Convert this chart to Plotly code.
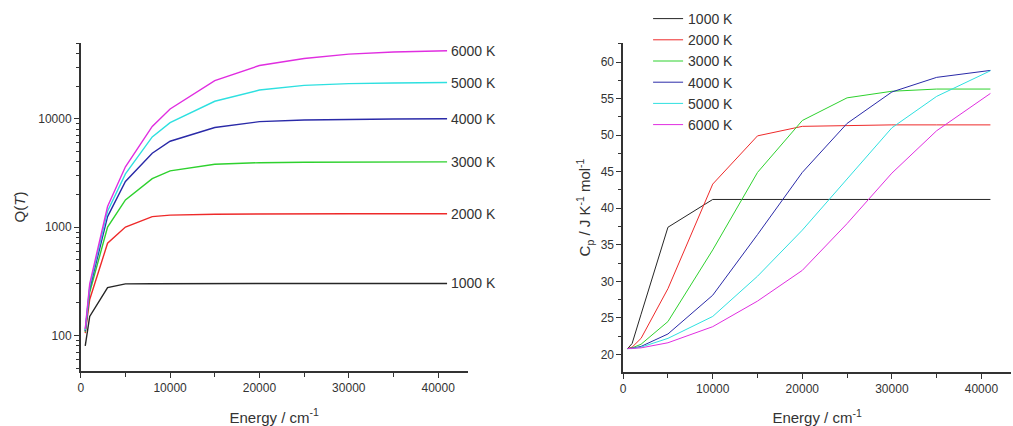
import math
import plotly.graph_objects as go

# ---------------- data ----------------
temps = ["1000 K", "2000 K", "3000 K", "4000 K", "5000 K", "6000 K"]
colors = ["#262626", "#ee2a2a", "#2ed12e", "#2a2aa8", "#2ee0e0", "#e02ee0"]

energy_q = [500, 1000, 3000, 5000, 8000, 10000, 15000, 20000, 25000, 30000, 35000, 41000]
q_1000 = [80, 150, 277, 299, 300, 301, 302, 302, 302, 302, 302, 302]
q_2000 = [105, 215, 710, 1000, 1250, 1290, 1315, 1325, 1330, 1330, 1330, 1330]
q_3000 = [108, 250, 1000, 1780, 2800, 3300, 3800, 3930, 3970, 3990, 4000, 4000]
q_4000 = [110, 270, 1250, 2640, 4800, 6200, 8300, 9400, 9750, 9900, 9950, 10000]
q_5000 = [112, 285, 1400, 3100, 6800, 9200, 14500, 18400, 20300, 21100, 21400, 21600]
q_6000 = [115, 300, 1550, 3600, 8500, 12300, 22500, 31000, 36000, 39500, 41300, 42400]

energy_cp = [500, 1000, 2000, 5000, 10000, 15000, 20000, 25000, 30000, 35000, 41000]
cp_1000 = [20.8, 21.5, 25.5, 37.4, 41.2, 41.2, 41.2, 41.2, 41.2, 41.2, 41.2]
cp_2000 = [20.8, 21.0, 22.2, 29.0, 43.3, 49.9, 51.2, 51.35, 51.4, 51.4, 51.4]
cp_3000 = [20.8, 20.9, 21.4, 24.5, 34.3, 44.9, 52.0, 55.1, 56.0, 56.3, 56.3]
cp_4000 = [20.8, 20.85, 21.1, 22.8, 28.1, 36.4, 44.9, 51.6, 55.9, 57.9, 58.85]
cp_5000 = [20.8, 20.8, 21.0, 22.2, 25.2, 30.7, 37.0, 44.0, 51.0, 55.3, 58.8]
cp_6000 = [20.8, 20.8, 20.9, 21.6, 23.8, 27.3, 31.5, 37.9, 44.8, 50.6, 55.7]

x_ticks = [0, 10000, 20000, 30000, 40000]
x_ticktext = ["0", "10000", "20000", "30000", "40000"]
q_ticks = [100, 1000, 10000]
q_ticktext = ["100", "1000", "10000"]
cp_ticks = [20, 25, 30, 35, 40, 45, 50, 55, 60]

q_series = [q_1000, q_2000, q_3000, q_4000, q_5000, q_6000]
cp_series = [cp_1000, cp_2000, cp_3000, cp_4000, cp_5000, cp_6000]

FONT = "Liberation Sans, Arial, sans-serif"
AX = "#333333"
TXT = "#333333"

fig = go.Figure()

for name, col, ys in zip(temps, colors, q_series):
    fig.add_trace(go.Scatter(x=energy_q, y=ys, mode="lines", name=name,
                             line=dict(color=col, width=1.4), showlegend=False,
                             xaxis="x", yaxis="y"))
for name, col, ys in zip(temps, colors, cp_series):
    fig.add_trace(go.Scatter(x=energy_cp, y=ys, mode="lines", name=name,
                             line=dict(color=col, width=1.0), showlegend=True,
                             xaxis="x2", yaxis="y2"))

# curve-end labels on the left panel
annotations = []
for name, ys in zip(temps, q_series):
    annotations.append(dict(x=energy_q[-1], y=math.log10(ys[-1]), xref="x", yref="y",
                            text=name, showarrow=False, xanchor="left", yanchor="middle",
                            xshift=2, font=dict(family=FONT, size=14, color=TXT)))

minor_log = [k * 10 ** d for d in range(1, 5) for k in range(2, 10)]

common_x = dict(range=[0, 43300], tickvals=x_ticks, ticktext=x_ticktext,
                ticks="outside", ticklen=5, tickwidth=1.2, tickcolor=AX,
                showline=True, linecolor=AX, linewidth=1.5, showgrid=False, zeroline=False,
                minor=dict(dtick=5000, ticks="outside", ticklen=4, tickcolor=AX, tickwidth=1.2),
                tickfont=dict(family=FONT, size=12, color=TXT),
                title=dict(text="Energy / cm<sup>-1</sup>", font=dict(family=FONT, size=15, color=TXT),
                           standoff=18))

fig.update_layout(
    width=1013, height=426, autosize=False,
    margin=dict(l=0, r=0, t=0, b=0),
    paper_bgcolor="white", plot_bgcolor="white",
    font=dict(family=FONT, color=TXT),
    xaxis=dict(domain=[78 / 1013, 466 / 1013], anchor="y", **common_x),
    xaxis2=dict(domain=[622 / 1013, 1011 / 1013], anchor="y2", **common_x),
    yaxis=dict(domain=[55 / 426, 383 / 426], anchor="x", type="log",
               range=[math.log10(47), math.log10(50000)],
               tickvals=q_ticks, ticktext=q_ticktext,
               ticks="outside", ticklen=5, tickwidth=1.2, tickcolor=AX,
               minor=dict(tickvals=minor_log, ticks="outside", ticklen=3, tickcolor=AX, tickwidth=1.2),
               showline=True, linecolor=AX, linewidth=1.5, showgrid=False, zeroline=False,
               tickfont=dict(family=FONT, size=12, color=TXT),
               title=dict(text="Q(<i>T</i>)", font=dict(family=FONT, size=15, color=TXT),
                          standoff=9)),
    yaxis2=dict(domain=[54 / 426, 383 / 426], anchor="x2",
                range=[17.6, 62.6], tickvals=cp_ticks,
                ticks="outside", ticklen=5, tickwidth=1.2, tickcolor=AX,
                minor=dict(dtick=2.5, tick0=0, ticks="outside", ticklen=3, tickcolor=AX, tickwidth=1.2),
                showline=True, linecolor=AX, linewidth=1.5, showgrid=False, zeroline=False,
                tickfont=dict(family=FONT, size=12, color=TXT),
                title=dict(text="C<sub>p</sub> / J K<sup>-1</sup> mol<sup>-1</sup>",
                           font=dict(family=FONT, size=15, color=TXT), standoff=6)),
    legend=dict(x=647 / 1013, y=1.0 - 3 / 426, xanchor="left", yanchor="top",
                bgcolor="rgba(0,0,0,0)", borderwidth=0,
                font=dict(family=FONT, size=14, color=TXT),
                tracegroupgap=0, itemwidth=30),
    annotations=annotations,
)

fig.write_html("out.html")
